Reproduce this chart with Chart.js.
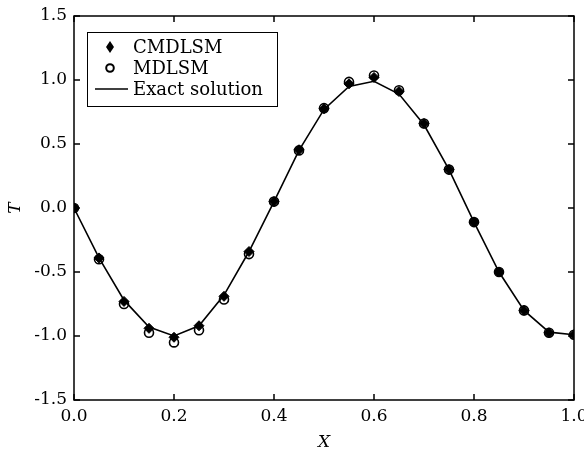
<!DOCTYPE html>
<html>
<head>
<meta charset="utf-8">
<script src="https://cdn.jsdelivr.net/npm/chart.js@4"></script>
<style>
    html, body { margin: 0; padding: 0; background: #fff; }
    #wrap { width: 584px; height: 450px; }
</style>
</head>
<body>
<div id="wrap"><canvas id="chart"></canvas></div>
<script>
// data
const xs = [0, 0.05, 0.1, 0.15, 0.2, 0.25, 0.3, 0.35, 0.4, 0.45, 0.5,
            0.55, 0.6, 0.65, 0.7, 0.75, 0.8, 0.85, 0.9, 0.95, 1.0];
const exactT = [0, -0.39, -0.72, -0.93, -1.0, -0.92, -0.68, -0.34, 0.05, 0.45, 0.77,
                0.95, 0.99, 0.89, 0.65, 0.30, -0.11, -0.50, -0.80, -0.97, -0.99];
const cmdlsmT = [0, -0.39, -0.73, -0.94, -1.01, -0.92, -0.69, -0.34, 0.05, 0.455, 0.775,
                 0.97, 1.02, 0.91, 0.66, 0.30, -0.11, -0.50, -0.80, -0.975, -0.99];
const mdlsmT = [0, -0.40, -0.75, -0.975, -1.05, -0.955, -0.715, -0.36, 0.05, 0.45, 0.78,
                0.985, 1.035, 0.92, 0.66, 0.30, -0.11, -0.50, -0.80, -0.975, -0.99];
const xTicks = [0, 0.2, 0.4, 0.6, 0.8, 1.0];
const yTicks = [-1.5, -1.0, -0.5, 0, 0.5, 1.0, 1.5];
const legendLabels = ["CMDLSM", "MDLSM", "Exact solution"];

const FONT = "'DejaVu Serif', 'Liberation Serif', serif";

function pts(ys) {
    return xs.map((x, i) => ({ x: x, y: ys[i] }));
}

// frame + inward ticks on all four sides, legend box
const framePlugin = {
    id: "frame",
    afterDatasetsDraw(chart) {
        const ctx = chart.ctx;
        const a = chart.chartArea;
        const sx = chart.scales.x, sy = chart.scales.y;
        ctx.save();
        ctx.strokeStyle = "#000";
        ctx.lineWidth = 1.5;
        ctx.strokeRect(a.left, a.top, a.right - a.left, a.bottom - a.top);
        ctx.beginPath();
        xTicks.forEach((v) => {
            const px = sx.getPixelForValue(v);
            ctx.moveTo(px, a.bottom); ctx.lineTo(px, a.bottom - 6);
            ctx.moveTo(px, a.top); ctx.lineTo(px, a.top + 6);
        });
        yTicks.forEach((v) => {
            const py = sy.getPixelForValue(v);
            ctx.moveTo(a.left, py); ctx.lineTo(a.left + 6, py);
            ctx.moveTo(a.right, py); ctx.lineTo(a.right - 6, py);
        });
        ctx.stroke();
        ctx.restore();
    },
    afterDraw(chart) {
        const ctx = chart.ctx;
        const a = chart.chartArea;
        const bx = a.left + 13, by = a.top + 16, bw = 190, bh = 74;
        ctx.save();
        ctx.fillStyle = "#fff";
        ctx.fillRect(bx, by, bw, bh);
        ctx.strokeStyle = "#000";
        ctx.lineWidth = 1;
        ctx.strokeRect(bx + 0.5, by + 0.5, bw, bh);
        const rows = [by + 15, by + 36, by + 57];
        const mx = bx + 23;
        // diamond
        ctx.fillStyle = "#000";
        ctx.beginPath();
        ctx.moveTo(mx, rows[0] - 6); ctx.lineTo(mx + 4, rows[0]);
        ctx.lineTo(mx, rows[0] + 6); ctx.lineTo(mx - 4, rows[0]);
        ctx.closePath(); ctx.fill();
        // circle
        ctx.lineWidth = 2;
        ctx.beginPath();
        ctx.arc(mx, rows[1], 3.8, 0, Math.PI * 2);
        ctx.stroke();
        // line
        ctx.lineWidth = 1.5;
        ctx.beginPath();
        ctx.moveTo(bx + 8, rows[2]); ctx.lineTo(bx + 41, rows[2]);
        ctx.stroke();
        ctx.font = "18px " + FONT;
        ctx.textBaseline = "middle";
        legendLabels.forEach((t, i) => ctx.fillText(t, bx + 46, rows[i] + 1));
        ctx.restore();
    }
};

new Chart(document.getElementById("chart"), {
    type: "scatter",
    data: {
        datasets: [
            {
                label: legendLabels[0],
                data: pts(cmdlsmT),
                pointStyle: "rectRot",
                pointRadius: 5,
                backgroundColor: "#000",
                borderColor: "#000",
                borderWidth: 1,
                order: 1,
            },
            {
                label: legendLabels[1],
                data: pts(mdlsmT),
                pointStyle: "circle",
                pointRadius: 4.5,
                backgroundColor: "rgba(0,0,0,0)",
                borderColor: "#000",
                borderWidth: 1.6,
                order: 2,
            },
            {
                label: legendLabels[2],
                type: "line",
                data: pts(exactT),
                showLine: true,
                pointRadius: 0,
                borderColor: "#000",
                borderWidth: 1.6,
                fill: false,
                tension: 0,
                order: 3,
            },
        ],
    },
    options: {
        responsive: true,
        maintainAspectRatio: false,
        animation: false,
        layout: { padding: { left: 0, right: 10, top: 16, bottom: 0 } },
        plugins: {
            legend: { display: false },
            tooltip: { enabled: false },
        },
        scales: {
            x: {
                type: "linear",
                min: 0,
                max: 1,
                afterBuildTicks: (s) => { s.ticks = xTicks.map((v) => ({ value: v })); },
                afterFit: (s) => { s.height = 50; s.paddingLeft = 0; s.paddingRight = 0; },
                grid: { display: false, drawTicks: false },
                border: { display: false },
                ticks: {
                    color: "#000",
                    padding: 6,
                    font: { family: FONT, size: 17 },
                    callback: (v) => Number(v).toFixed(1),
                },
                title: {
                    display: true,
                    text: "X",
                    color: "#000",
                    padding: { top: 0, bottom: -3 },
                    font: { family: FONT, size: 17, style: "italic" },
                },
            },
            y: {
                type: "linear",
                min: -1.5,
                max: 1.5,
                afterBuildTicks: (s) => { s.ticks = yTicks.map((v) => ({ value: v })); },
                afterFit: (s) => { s.width = 74; s.paddingTop = 0; s.paddingBottom = 0; },
                grid: { display: false, drawTicks: false },
                border: { display: false },
                ticks: {
                    color: "#000",
                    padding: 7,
                    font: { family: FONT, size: 17 },
                    callback: (v) => Number(v).toFixed(1),
                },
                title: {
                    display: true,
                    text: "T",
                    color: "#000",
                    padding: { top: 5, bottom: 0 },
                    font: { family: FONT, size: 17, style: "italic" },
                },
            },
        },
    },
    plugins: [framePlugin],
});
</script>
</body>
</html>
